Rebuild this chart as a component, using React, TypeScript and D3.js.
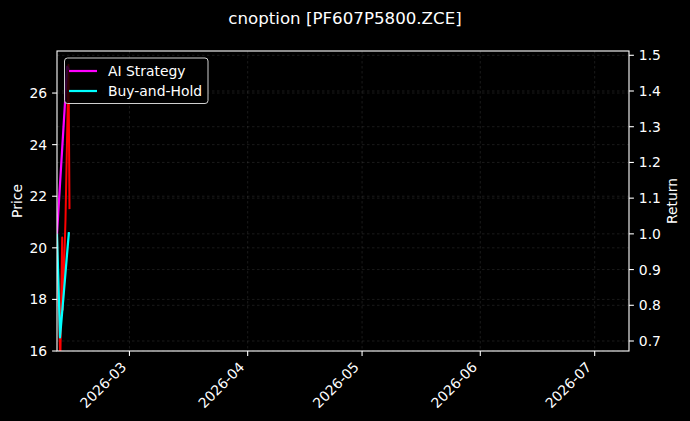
import React from 'react'
import * as d3 from 'd3'

// price path (left axis) - intraday points
const priceTimes = [
  '2026-02-10T00:00',
  '2026-02-10T20:45',
  '2026-02-11T08:45',
  '2026-02-11T12:30',
  '2026-02-12T05:30',
  '2026-02-13T00:20',
  '2026-02-13T06:40',
]
const priceValues = [20.5, 15.6, 20.4, 17.6, 21.1, 27.1, 21.5]

// return series (right axis)
const aiTimes = [
  '2026-02-10T00:00',
  '2026-02-10T19:00',
  '2026-02-12T00:00',
  '2026-02-12T16:00',
  '2026-02-13T03:00',
]
const aiReturn = [1.0, 1.14, 1.35, 1.468, 1.46]

const bhTimes = ['2026-02-10T00:00', '2026-02-10T19:00', '2026-02-12T00:00', '2026-02-13T03:00']
const bhReturn = [1.0, 0.71, 0.862, 1.005]

const priceTicks = [16, 18, 20, 22, 24, 26]
const returnTicks = [0.7, 0.8, 0.9, 1.0, 1.1, 1.2, 1.3, 1.4, 1.5]
const legendLabels = ['AI Strategy', 'Buy-and-Hold']
const legendColors = ['#ff00ff', '#00ffff']

const W = 690
const H = 421
const left = 57
const right = 629
const top = 51
const bottom = 351
const FONT = 'DejaVu Sans, sans-serif'

function App() {
  const x = d3
    .scaleTime()
    .domain([new Date('2026-02-10T00:00'), new Date('2026-07-10T00:00')])
    .range([left, right])
  const yP = d3.scaleLinear().domain([16, 27.63]).range([bottom, top])
  const yR = d3.scaleLinear().domain([0.672, 1.512]).range([bottom, top])

  const monthTicks = x.ticks(d3.timeMonth.every(1) as any)
  const fmt = d3.timeFormat('%Y-%m')

  const priceLine = d3
    .line<number>()
    .x((_, i) => x(new Date(priceTimes[i])))
    .y(d => yP(d))
  const aiLine = d3
    .line<number>()
    .x((_, i) => x(new Date(aiTimes[i])))
    .y(d => yR(d))
  const bhLine = d3
    .line<number>()
    .x((_, i) => x(new Date(bhTimes[i])))
    .y(d => yR(d))

  const grid = {stroke: '#808080', strokeOpacity: 0.4, strokeWidth: 0.5, strokeDasharray: '2.5,2.5'}

  return (
    <svg
      width={W}
      height={H}
      style={{position: 'fixed', left: 0, top: 0, background: '#000'}}
      fontFamily={FONT}>
      <rect width={W} height={H} fill="#000" />
      <defs>
        <clipPath id="plot">
          <rect x={left} y={top} width={right - left} height={bottom - top} />
        </clipPath>
      </defs>

      {/* grid */}
      {monthTicks.map(t => (
        <line key={'gx' + t} x1={x(t)} x2={x(t)} y1={top} y2={bottom} {...grid} />
      ))}
      {priceTicks.map(t => (
        <line key={'gp' + t} x1={left} x2={right} y1={yP(t)} y2={yP(t)} {...grid} />
      ))}
      {returnTicks.map(t => (
        <line key={'gr' + t} x1={left} x2={right} y1={yR(t)} y2={yR(t)} {...grid} />
      ))}

      {/* series */}
      <g clipPath="url(#plot)" fill="none" strokeLinejoin="round">
        <path d={priceLine(priceValues) || ''} stroke="#ff0000" strokeWidth={2} />
        <path d={aiLine(aiReturn) || ''} stroke={legendColors[0]} strokeWidth={2.2} />
        <path d={bhLine(bhReturn) || ''} stroke={legendColors[1]} strokeWidth={2.2} />
      </g>

      {/* frame */}
      <rect x={left} y={top} width={right - left} height={bottom - top} fill="none" stroke="#fff" strokeWidth={1.1} />

      {/* x axis */}
      {monthTicks.map(t => (
        <g key={'xt' + t}>
          <line x1={x(t)} x2={x(t)} y1={bottom} y2={bottom + 4.9} stroke="#fff" strokeWidth={1.1} />
          <text
            transform={`translate(${x(t) - 2.3},${bottom + 17}) rotate(-45)`}
            textAnchor="end"
            fontSize={13.9}
            fill="#fff">
            {fmt(t)}
          </text>
        </g>
      ))}

      {/* left axis */}
      {priceTicks.map(t => (
        <g key={'yp' + t}>
          <line x1={left - 4.9} x2={left} y1={yP(t)} y2={yP(t)} stroke="#fff" strokeWidth={1.1} />
          <text x={left - 9.8} y={yP(t) + 5} textAnchor="end" fontSize={13.9} fill="#fff">
            {t}
          </text>
        </g>
      ))}
      <text transform={`translate(22,${(top + bottom) / 2}) rotate(-90)`} textAnchor="middle" fontSize={13.9} fill="#fff">
        Price
      </text>

      {/* right axis */}
      {returnTicks.map(t => (
        <g key={'yr' + t}>
          <line x1={right} x2={right + 4.9} y1={yR(t)} y2={yR(t)} stroke="#fff" strokeWidth={1.1} />
          <text x={right + 9.8} y={yR(t) + 5} textAnchor="start" fontSize={13.9} fill="#fff">
            {t.toFixed(1)}
          </text>
        </g>
      ))}
      <text transform={`translate(677,${(top + bottom) / 2}) rotate(-90)`} textAnchor="middle" fontSize={13.9} fill="#fff">
        Return
      </text>

      {/* legend */}
      <rect x={64.5} y={58} width={143.5} height={45.5} rx={3} fill="#000" fillOpacity={0.8} stroke="#d0d0d0" strokeWidth={1} />
      {legendLabels.map((l, i) => (
        <g key={l}>
          <line x1={69} x2={97} y1={71 + i * 20} y2={71 + i * 20} stroke={legendColors[i]} strokeWidth={2.2} />
          <text x={108} y={76 + i * 20} fontSize={13.9} fill="#fff">
            {l}
          </text>
        </g>
      ))}

      {/* title */}
      <text x={W / 2} y={24} textAnchor="middle" fontSize={16.67} fill="#fff">
        cnoption [PF607P5800.ZCE]
      </text>
    </svg>
  )
}

export default App
